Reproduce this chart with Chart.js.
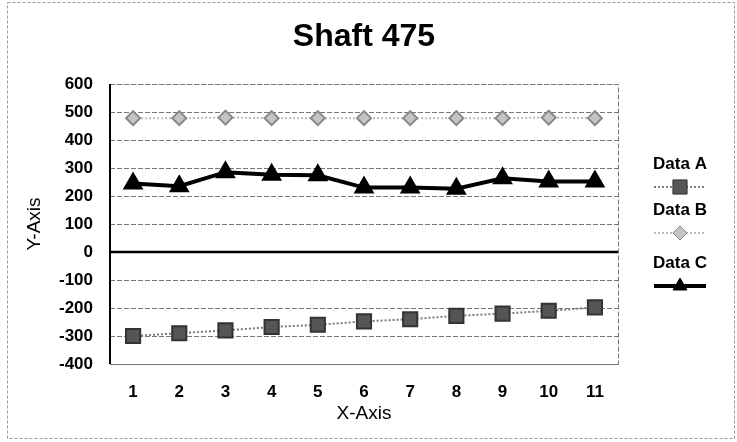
<!DOCTYPE html>
<html>
<head>
<meta charset="utf-8">
<script src="https://cdn.jsdelivr.net/npm/chart.js@4.4.1/dist/chart.umd.min.js"></script>
<style>
  html, body { margin: 0; padding: 0; background: #fff; }
  #wrap { width: 737px; height: 442px; position: relative; }
</style>
</head>
<body>
<div id="wrap"><canvas id="chart"></canvas></div>
<script>
const labels = ['1', '2', '3', '4', '5', '6', '7', '8', '9', '10', '11'];
const dataA = [-300, -290, -280, -268, -260, -248, -240, -228, -220, -210, -198];
const dataB = [478, 478, 480, 478, 478, 478, 478, 478, 478, 480, 478];
const dataC = [245, 235, 285, 276, 274, 230, 230, 226, 263, 252, 252];
const yTicks = [600, 500, 400, 300, 200, 100, 0, -100, -200, -300, -400];
const chartTitle = 'Shaft 475';

const FONT = 'Arial, "Liberation Sans", sans-serif';

/* frame, title over the plot, plot border, zero line and the stacked legend */
const decor = {
  id: 'decor',
  beforeDraw(chart) {
    const ctx = chart.ctx;
    const a = chart.chartArea;
    ctx.save();
    ctx.strokeStyle = '#999';
    ctx.lineWidth = 1;
    ctx.setLineDash([3, 2]);
    ctx.strokeRect(7.5, 2.5, 727, 436);
    ctx.setLineDash([]);
    ctx.fillStyle = '#000';
    ctx.font = 'bold 32px ' + FONT;
    ctx.textAlign = 'center';
    ctx.textBaseline = 'middle';
    ctx.fillText(chartTitle, (a.left + a.right) / 2, 37);
    ctx.restore();
  },
  afterDatasetsDraw(chart) {
    const ctx = chart.ctx;
    const a = chart.chartArea;
    const y0 = chart.scales.y.getPixelForValue(0);
    ctx.save();
    ctx.strokeStyle = '#777';
    ctx.lineWidth = 1;
    ctx.setLineDash([5, 2]);
    ctx.strokeRect(a.left + 0.5, a.top + 0.5, a.right - a.left, a.bottom - a.top);
    ctx.setLineDash([]);
    ctx.strokeStyle = '#000';
    ctx.lineWidth = 2.5;
    ctx.beginPath();
    ctx.moveTo(a.left, y0);
    ctx.lineTo(a.right, y0);
    ctx.stroke();
    ctx.beginPath();
    ctx.lineWidth = 2;
    ctx.moveTo(a.left, a.top);
    ctx.lineTo(a.left, a.bottom);
    ctx.stroke();

    // legend: name above, line sample below
    const cx = 680;
    const rows = [164, 210, 263];
    chart.data.datasets.forEach((ds, i) => {
      const ty = rows[i];
      ctx.fillStyle = '#000';
      ctx.font = 'bold 17px ' + FONT;
      ctx.textAlign = 'center';
      ctx.textBaseline = 'middle';
      ctx.fillText(ds.label, cx, ty);
      const ly = ty + 23;
      ctx.strokeStyle = ds.borderColor;
      ctx.lineWidth = ds.borderWidth;
      ctx.setLineDash(ds.borderDash || []);
      ctx.beginPath();
      ctx.moveTo(cx - 26, ly);
      ctx.lineTo(cx + 26, ly);
      ctx.stroke();
      ctx.setLineDash([]);
      ctx.fillStyle = ds.pointBackgroundColor;
      ctx.strokeStyle = ds.pointBorderColor;
      ctx.lineWidth = 1;
      Chart.helpers.drawPoint(ctx, {
        pointStyle: ds.pointStyle,
        radius: ds.pointRadius,
        rotation: 0,
        borderWidth: 1
      }, cx, ly);
    });
    ctx.restore();
  }
};

new Chart(document.getElementById('chart'), {
  type: 'line',
  data: {
    labels: labels,
    datasets: [
      {
        label: 'Data A',
        data: dataA,
        borderColor: '#7a7a7a',
        borderWidth: 2,
        borderDash: [2, 2],
        pointStyle: 'rect',
        pointRadius: 10,
        pointBackgroundColor: '#555',
        pointBorderColor: '#333',
        tension: 0
      },
      {
        label: 'Data B',
        data: dataB,
        borderColor: '#bdbdbd',
        borderWidth: 2,
        borderDash: [2, 2],
        pointStyle: 'rectRot',
        pointRadius: 7,
        pointBackgroundColor: '#c4c4c4',
        pointBorderColor: '#888',
        tension: 0
      },
      {
        label: 'Data C',
        data: dataC,
        borderColor: '#000',
        borderWidth: 4,
        pointStyle: 'triangle',
        pointRadius: 8,
        pointBackgroundColor: '#000',
        pointBorderColor: '#000',
        tension: 0
      }
    ]
  },
  options: {
    responsive: true,
    maintainAspectRatio: false,
    animation: false,
    layout: { padding: { left: 10, right: 119, top: 84, bottom: 0 } },
    plugins: {
      legend: { display: false },
      tooltip: { enabled: false }
    },
    scales: {
      x: {
        offset: true,
        afterFit(scale) { scale.height = 78; },
        grid: { display: false, drawTicks: false },
        border: { display: false },
        ticks: { color: '#000', padding: 18, font: { family: FONT, size: 17, weight: 'bold' } },
        title: {
          display: true,
          text: 'X-Axis',
          color: '#000',
          font: { family: FONT, size: 19 },
          padding: { top: 0, bottom: 17 }
        }
      },
      y: {
        min: -400,
        max: 600,
        afterFit(scale) { scale.width = 100; },
        afterBuildTicks(scale) { scale.ticks = yTicks.map(v => ({ value: v })); },
        grid: { color: '#777', lineWidth: 1, drawTicks: false },
        border: { display: false, dash: [5, 2] },
        ticks: { color: '#000', padding: 17, font: { family: FONT, size: 17, weight: 'bold' } },
        title: {
          display: true,
          text: 'Y-Axis',
          color: '#000',
          font: { family: FONT, size: 19 },
          padding: { top: 13, bottom: 0 }
        }
      }
    }
  },
  plugins: [decor]
});
</script>
</body>
</html>
